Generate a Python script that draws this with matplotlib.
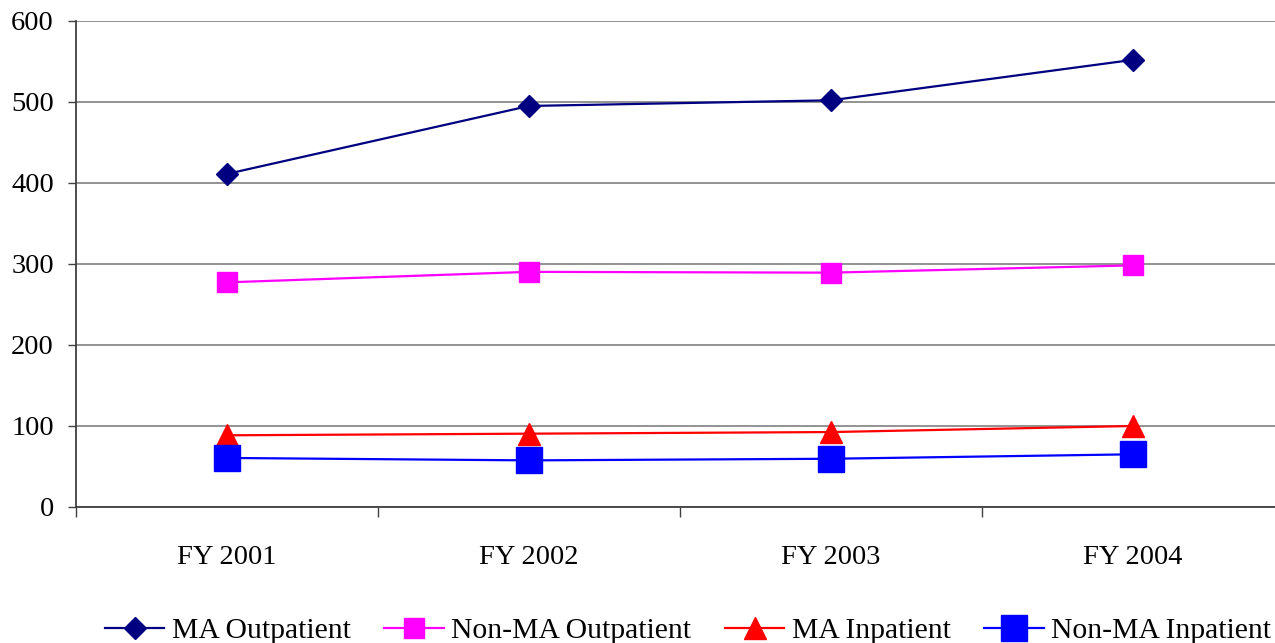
import matplotlib
matplotlib.use("Agg")
import matplotlib.pyplot as plt
import numpy as np

categories = ["FY 2001", "FY 2002", "FY 2003", "FY 2004"]
ma_outpatient = [411, 495, 502, 552]
non_ma_outpatient = [277, 290, 289, 298]
ma_inpatient = [88, 90, 92, 99.5]
non_ma_inpatient = [60, 57, 59, 64.5]
yticks = [0, 100, 200, 300, 400, 500, 600]

plt.rcParams['font.family'] = ['Liberation Serif', 'DejaVu Serif']

fig = plt.figure(figsize=(12.75, 6.43), dpi=100)
ax = fig.add_axes([76/1275, 1-506.5/643, 1208/1275, (506.5-21)/643])

x = np.arange(len(categories))
ax.plot(x, ma_outpatient, color='#000080', lw=1.6, marker='D', ms=10.8,
        mfc='#000080', mec='#000080', label='MA Outpatient', zorder=5)
ax.plot(x, non_ma_outpatient, color='#FF00FF', lw=1.6, marker='s', ms=14,
        mfc='#FF00FF', mec='#FF00FF', label='Non-MA Outpatient', zorder=5)
ax.plot(x, ma_inpatient, color='#FF0000', lw=1.6, marker='^', ms=15.6,
        mfc='#FF0000', mec='#FF0000', label='MA Inpatient', zorder=5)
ax.plot(x, non_ma_inpatient, color='#0000FF', lw=1.6, marker='s', ms=19,
        mfc='#0000FF', mec='#0000FF', label='Non-MA Inpatient', zorder=5)

ax.set_xlim(-0.5, len(categories) - 0.5)
ax.set_ylim(0, 600)
ax.set_yticks(yticks)
ax.set_yticklabels([str(v) for v in yticks], fontsize=20.5)
ax.set_xticks(x)
ax.set_xticklabels(categories, fontsize=20.5)
ax.set_xticks(np.arange(-0.5, len(categories)), minor=True)
ax.tick_params(axis='x', which='major', length=0, pad=28)
ax.tick_params(axis='x', which='minor', length=7, width=1, color='#404040', direction='out')
ax.tick_params(axis='y', which='major', length=6, width=1, color='#404040', pad=10)

ax.yaxis.grid(True, color='#808080', lw=1.2)
ax.set_axisbelow(True)
for s in ['top', 'right']:
    ax.spines[s].set_visible(False)
for s in ['left', 'bottom']:
    ax.spines[s].set_color('#404040')
    ax.spines[s].set_linewidth(1.3)

fig.legend(loc='center', bbox_to_anchor=(688/1275, 1-631/643), ncol=4,
           frameon=False, fontsize=21.3, handlelength=2.0, handletextpad=0.25,
           columnspacing=1.15, borderpad=0)

fig.savefig("out.png", dpi=100)
